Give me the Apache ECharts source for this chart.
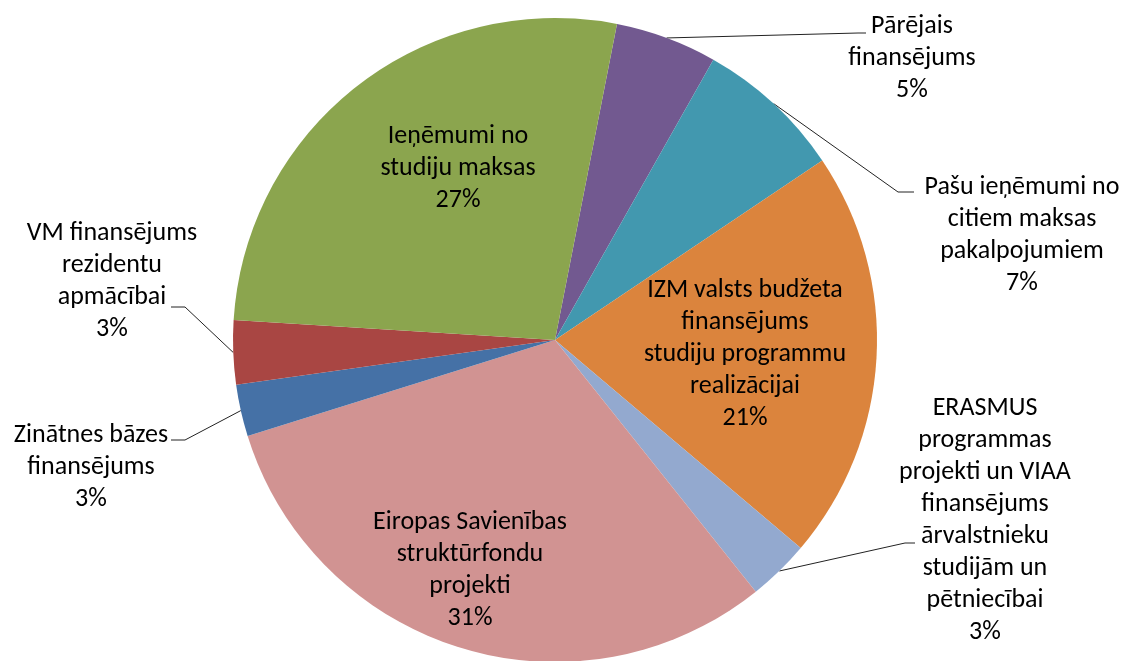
<!DOCTYPE html>
<html>
<head>
<meta charset="utf-8">
<script src="https://cdn.jsdelivr.net/npm/echarts@6/dist/echarts.min.js"></script>
<style>
  html, body { margin: 0; padding: 0; background: #fff; }
  #chart { width: 1128px; height: 661px; }
</style>
</head>
<body>
<div id="chart"></div>
<script>
// slices, clockwise from the one just right of 12 o'clock
var sliceNames = [
  'Pārējais\nfinansējums',
  'Pašu ieņēmumi no\ncitiem maksas\npakalpojumiem',
  'IZM valsts budžeta\nfinansējums\nstudiju programmu\nrealizācijai',
  'ERASMUS\nprogrammas\nprojekti un VIAA\nfinansējums\nārvalstnieku\nstudijām un\npētniecībai',
  'Eiropas Savienības\nstruktūrfondu\nprojekti',
  'Zinātnes bāzes\nfinansējums',
  'VM finansējums\nrezidentu\napmācībai',
  'Ieņēmumi no\nstudiju maksas'
]
var sliceValues = [5.1, 7.4, 20.6, 3.1, 30.9, 2.6, 3.2, 27.1]
var sliceColors = ['#725990', '#4298AF', '#DB843D', '#93A9CF', '#D19392', '#4571A6', '#A94643', '#8BA54E']
var insideSlices = [2, 4, 7]

// where each label sits (pixel anchors for this 1128x661 frame)
var labelSpots = {
  0: { x: 912, y: 58, elbow: [858, 33], end: [866, 33] },
  1: { x: 1022, y: 235, elbow: [898, 192], end: [914, 192] },
  2: { x: 745, y: 354 },
  3: { x: 985, y: 520, elbow: [905, 543], end: [915, 543] },
  4: { x: 470, y: 570 },
  5: { x: 91, y: 467, elbow: [185, 440], end: [171, 440] },
  6: { x: 112, y: 281, elbow: [185, 307], end: [171, 307] },
  7: { x: 458, y: 168 }
}

var chart = echarts.init(document.getElementById('chart'))
var textStyle = {
  color: '#000',
  fontFamily: 'Carlito, Calibri, Lato, sans-serif',
  fontSize: 26,
  lineHeight: 32,
  align: 'center'
}

chart.setOption({
  animation: false,
  series: [{
    type: 'pie',
    center: [555, 340],
    radius: 322,
    startAngle: 78.9,
    clockwise: true,
    avoidLabelOverlap: false,
    percentPrecision: 0,
    itemStyle: { borderWidth: 0 },
    label: Object.assign({ formatter: '{b}\n{d}%' }, textStyle),
    labelLine: {
      show: true,
      smooth: false,
      lineStyle: { color: '#222', width: 1 }
    },
    labelLayout: function (p) {
      var s = labelSpots[p.dataIndex]
      var out = { x: s.x, y: s.y, align: 'center', verticalAlign: 'middle' }
      if (s.elbow && p.labelLinePoints) {
        out.labelLinePoints = [p.labelLinePoints[0], s.elbow, s.end]
      }
      return out
    },
    data: sliceNames.map(function (n, i) {
      var inside = insideSlices.indexOf(i) >= 0
      return {
        name: n,
        value: sliceValues[i],
        itemStyle: { color: sliceColors[i] },
        label: { position: inside ? 'inside' : 'outside' },
        labelLine: { show: !inside }
      }
    })
  }]
})
</script>
</body>
</html>
